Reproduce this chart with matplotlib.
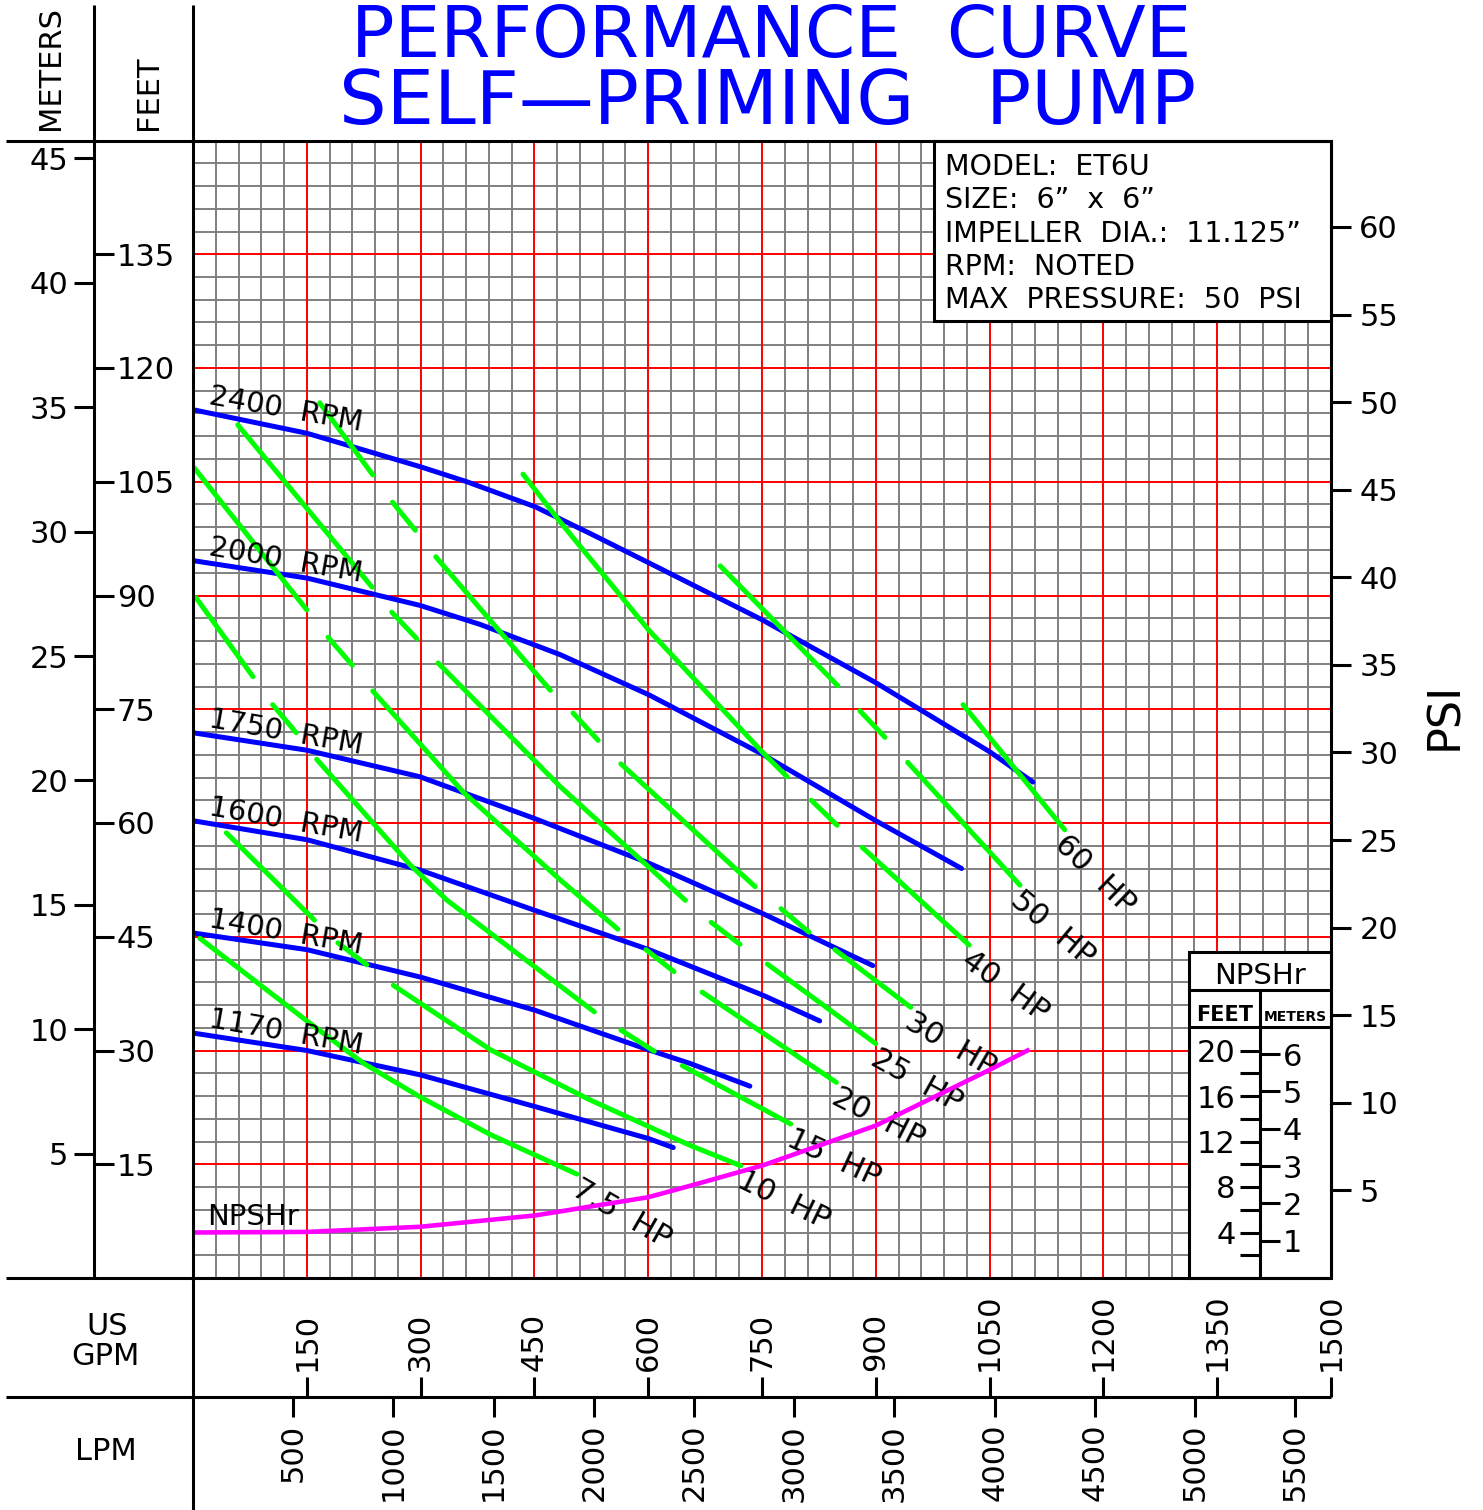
import numpy as np
import matplotlib
matplotlib.use('Agg')
import matplotlib.pyplot as plt
from matplotlib.patches import Rectangle

plt.rcParams['font.family'] = ['DejaVu Sans']

# pump curves, flow in US GPM and total head in feet
rpm_labels = ['2400', '2000', '1750', '1600', '1400', '1170']
gpm_2400 = [0, 150, 299, 361, 451, 523, 601, 750, 900, 1050, 1107]
ft_2400 = [114.5, 111.4, 107.0, 105.0, 101.7, 98.2, 94.3, 86.8, 78.5, 69.4, 65.4]
gpm_2000 = [0, 150, 299, 378, 484, 601, 750, 900, 1013]
ft_2000 = [94.6, 92.3, 88.7, 86.2, 82.2, 76.9, 69.1, 60.3, 54.0]
gpm_1750 = [0, 150, 299, 450, 601, 750, 896]
ft_1750 = [71.9, 69.6, 66.1, 60.6, 54.7, 48.1, 41.2]
gpm_1600 = [0, 150, 299, 450, 601, 751, 826]
ft_1600 = [60.3, 57.8, 53.8, 48.5, 43.3, 37.3, 33.9]
gpm_1400 = [0, 150, 299, 451, 600, 655, 734]
ft_1400 = [45.5, 43.3, 39.7, 35.3, 30.1, 28.3, 25.3]
gpm_1170 = [0, 150, 299, 451, 600, 633]
ft_1170 = [32.3, 30.0, 26.8, 22.6, 18.4, 17.2]

# NPSHr (feet, on its own scale)
npsh_gpm = [0, 150, 299, 451, 600, 655, 751, 900, 1050, 1100]
npsh_ft = [4.0, 4.05, 4.5, 5.5, 7.1, 8.1, 9.9, 13.4, 18.3, 20.0]

# horsepower lines, drawn as dash pieces (gpm, ft)
hp_labels = ['60', '50', '40', '30', '25', '20', '15', '10', '7.5']
hp_60 = [[(1015, 75.6), (1149, 59.1)]]
hp_50 = [[(695, 93.9), (850, 78.1)],
         [(879, 74.8), (912, 71.3)],
         [(942, 68.0), (1090, 51.8)]]
hp_40 = [[(435, 106.0), (484, 99.7), (601, 85.4), (750, 69.4), (783, 66.1)],
         [(815, 63.0), (849, 59.7)],
         [(882, 56.8), (1023, 43.9)]]
hp_30 = [[(167, 115.4), (237, 105.9)],
         [(263, 102.3), (293, 98.6)],
         [(320, 95.1), (471, 77.5)],
         [(501, 74.5), (534, 70.9)],
         [(564, 67.8), (741, 51.6)],
         [(775, 48.7), (812, 45.6)],
         [(846, 43.3), (946, 35.7)]]
hp_25 = [[(59, 112.5), (236, 91.1)],
         [(262, 87.8), (295, 84.3)],
         [(323, 81.1), (484, 64.8), (649, 49.8)],
         [(683, 46.9), (721, 44.0)],
         [(757, 41.4), (900, 30.9)]]
hp_20 = [[(1, 106.9), (150, 88.1)],
         [(178, 84.5), (210, 80.8)],
         [(237, 77.4), (356, 64.1), (484, 52.5), (560, 46.0)],
         [(597, 43.3), (634, 40.4)],
         [(671, 37.7), (848, 25.8)]]
hp_15 = [[(4, 89.7), (79, 79.3)],
         [(105, 75.6), (136, 71.9)],
         [(163, 68.4), (286, 54.5), (335, 49.8), (451, 41.0), (529, 35.1)],
         [(564, 32.7), (608, 29.9)],
         [(645, 28.0), (788, 20.3)]]
hp_10 = [[(44, 58.7), (160, 47.2)],
         [(191, 44.2), (229, 41.3)],
         [(264, 38.6), (392, 30.1), (523, 23.5), (655, 17.5), (722, 14.8)]]
hp_75 = [[(9, 44.8), (154, 33.6), (225, 28.3), (299, 23.9), (392, 18.9), (506, 13.7)]]

info_lines = ['MODEL:  ET6U', 'SIZE:  6\u201d  x  6\u201d', 'IMPELLER  DIA.:  11.125\u201d',
              'RPM:  NOTED', 'MAX  PRESSURE:  50  PSI']

pump_gpm = [gpm_2400, gpm_2000, gpm_1750, gpm_1600, gpm_1400, gpm_1170]
pump_ft = [ft_2400, ft_2000, ft_1750, ft_1600, ft_1400, ft_1170]
hp_lines = [hp_60, hp_50, hp_40, hp_30, hp_25, hp_20, hp_15, hp_10, hp_75]
hp_angles = [44, 40, 36, 30, 29, 27, 25, 26, 30]

W, H = 1483, 1510
L, R, T, B = 193, 1331, 140.5, 1278   # plot box, pixels

fig = plt.figure(figsize=(W / 100, H / 100), dpi=100)
ax = fig.add_axes([L / W, 1 - B / H, (R - L) / W, (B - T) / H])

def axpt(x, y):
    return (x - L) / (R - L), (B - y) / (B - T)

# grid
ax.set_xticks(np.arange(0, 1501, 150))
ax.set_xticks(np.arange(0, 1501, 30), minor=True)
ax.set_yticks(np.arange(0, 151, 15))
ax.set_yticks(np.arange(0, 151, 3), minor=True)
ax.set_axisbelow(True)
ax.grid(which='minor', color='#808080', lw=1.4)
ax.tick_params(which='both', length=0, labelbottom=False, labelleft=False)
ax.vlines(np.arange(150, 1500, 150), 0, 150, colors='red', lw=1.4, zorder=0.6)
ax.hlines(np.arange(15, 150, 15), 0, 1500, colors='red', lw=1.4, zorder=0.6)
for s in ax.spines.values():
    s.set_visible(False)

for q, h, r in zip(pump_gpm, pump_ft, rpm_labels):
    ax.plot(q, h, color='#0000ff', lw=3.6, solid_capstyle='round',
            solid_joinstyle='round', zorder=2.5)
    ax.text(20, h[0] + 0.8, r + '  RPM', rotation=-10, rotation_mode='anchor',
            ha='left', va='baseline', fontsize=21, zorder=4)

for segs, lab, ang in zip(hp_lines, hp_labels, hp_angles):
    for seg in segs:
        q, h = zip(*seg)
        ax.plot(q, h, color='#00ff00', lw=3.6, solid_capstyle='round',
                solid_joinstyle='round', zorder=3)
    ax.annotate(lab + '  HP', xy=segs[-1][-1], xytext=(3, 0), textcoords='offset points',
                rotation=-ang, rotation_mode='anchor', ha='left', va='top',
                fontsize=22, zorder=4)

ax.set_xlim(0, 1500)
ax.set_ylim(0, 150)

tk = dict(direction='out', length=14.4, width=2.2, labelsize=22)

# meters / feet scales on the left
xl = axpt(94, 0)[0]
sm = ax.secondary_yaxis(xl, functions=(lambda v: v * 0.3048, lambda v: v / 0.3048))
sm.set_alignment('left')
sm.set_yticks(range(5, 46, 5))
sm.tick_params(pad=4, **tk)
sf = ax.secondary_yaxis(xl, functions=(lambda v: v, lambda v: v))
sf.set_alignment('right')
sf.set_yticks(range(15, 136, 15))
sf.tick_params(pad=2, **tk)

# PSI on the right
sp = ax.secondary_yaxis('right', functions=(lambda v: v / 2.31, lambda v: v * 2.31))
sp.set_yticks(range(5, 61, 5))
sp.tick_params(pad=6, **tk)

# GPM / LPM scales at the bottom
yb = axpt(0, 1397)[1]
sg = ax.secondary_xaxis(yb, functions=(lambda v: v, lambda v: v))
sg.set_alignment('top')
sg.set_xticks(range(150, 1501, 150))
sg.tick_params(pad=4, labelrotation=90, **tk)
sl = ax.secondary_xaxis(yb, functions=(lambda v: v * 3.78541, lambda v: v / 3.78541))
sl.set_alignment('bottom')
sl.set_xticks(range(500, 5501, 500))
sl.tick_params(pad=5, labelrotation=90, **tk)
for sec in (sm, sf, sp, sg, sl):
    sec.spines[:].set_visible(False)

# NPSHr on its own scale (20 ft NPSH = 30 ft head)
axn = ax.twinx()
axn.set_ylim(0, 100)
axn.tick_params(right=False, labelright=False)
for s in axn.spines.values():
    s.set_visible(False)
axn.plot(npsh_gpm, npsh_ft, color='#ff00ff', lw=3.3, solid_joinstyle='round', zorder=3)
axn.text(18, npsh_ft[0] + 0.65, 'NPSHr', fontsize=21, va='baseline')

x0, y0 = axpt(1189, 1278)
x1, y1 = axpt(1331, 952)
axn.add_patch(Rectangle((x0, y0), x1 - x0, y1 - y0, transform=axn.transAxes,
                        fc='white', ec='black', lw=2.2, zorder=5, clip_on=False))
xd = axpt(1260, 0)[0]
nf = axn.secondary_yaxis(xd, functions=(lambda v: v, lambda v: v))
nf.set_alignment('left')
nf.set_yticks([4, 8, 12, 16, 20])
nf.set_yticks([2, 6, 10, 14, 18], minor=True)
nf.tick_params(which='both', pad=3, **tk)
nm = axn.secondary_yaxis(xd, functions=(lambda v: v * 0.3048, lambda v: v / 0.3048))
nm.set_alignment('right')
nm.set_yticks(range(1, 7))
nm.tick_params(pad=2, **tk)
for sec in (nf, nm):
    sec.spines[:].set_visible(False)
    sec.set_zorder(6)
axn.set_xlim(0, 1500)
axn.set_ylim(0, 100)

# frame, headers and boxes drawn in pixel space
ov = fig.add_axes([0, 0, 1, 1])
ov.set_xlim(0, W)
ov.set_ylim(H, 0)
ov.axis('off')
ov.set_zorder(10)
fr = dict(color='black', lw=2.2, solid_capstyle='butt')
ov.plot([6, R], [141, 141], **fr)
ov.plot([6, R], [B, B], **fr)
ov.plot([6, R], [1397, 1397], **fr)
ov.plot([94, 94], [5, B], **fr)
ov.plot([193, 193], [5, H], **fr)
ov.plot([R, R], [141, B], **fr)
ov.plot([1189, R], [990, 990], **fr)
ov.plot([1189, R], [1027, 1027], **fr)
ov.plot([1260, 1260], [990, B], **fr)

ov.add_patch(Rectangle((934, 141), R - 934, 321 - 141, fc='white', ec='black', lw=2.2))
for i, line in enumerate(info_lines):
    ov.text(945, 175 + 33.25 * i, line, fontsize=20.5, va='baseline', ha='left')

ov.text(1260, 984, 'NPSHr', fontsize=21, ha='center', va='baseline')
ov.text(1224.5, 1021, 'FEET', fontsize=15, fontweight='bold', ha='center', va='baseline')
ov.text(1295.5, 1021, 'METERS', fontsize=10, fontweight='bold', ha='center', va='baseline')

ov.text(771, 57, 'PERFORMANCE  CURVE', fontsize=52, color='#0000ff', ha='center', va='baseline')
ov.text(768, 124, 'SELF\u2014PRIMING   PUMP', fontsize=54, color='#0000ff', ha='center', va='baseline')

ov.text(51, 130, 'METERS', fontsize=22, rotation=90, ha='center', va='bottom')
ov.text(148, 130, 'FEET', fontsize=22, rotation=90, ha='center', va='bottom')
ov.text(107, 1335, 'US', fontsize=22, ha='center', va='baseline')
ov.text(105, 1365, 'GPM', fontsize=22, ha='center', va='baseline')
ov.text(106, 1460, 'LPM', fontsize=22, ha='center', va='baseline')
ov.text(1445, 716, 'PSI', fontsize=32, rotation=90, ha='center', va='center')

fig.savefig('out.png', dpi=100)
